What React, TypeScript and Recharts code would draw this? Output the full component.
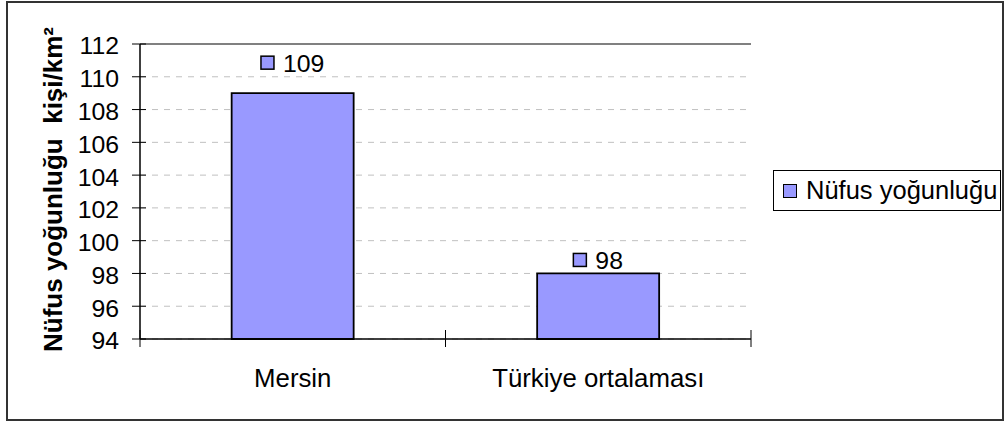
import React from 'react';
import { BarChart, Bar, XAxis, YAxis, CartesianGrid, LabelList, ReferenceLine } from 'recharts';

const categories = ['Mersin', 'Türkiye ortalaması'];
const densityValues = [109, 98];
const yTicks = [94, 96, 98, 100, 102, 104, 106, 108, 110, 112];
const seriesName = 'Nüfus yoğunluğu';
const yTitle = 'Nüfus yoğunluğu  kişi/km²';

const data = categories.map((name, i) => ({ name, value: densityValues[i] }));

const FONT = '"Liberation Sans", Arial, sans-serif';
const BAR_FILL = '#9999FF';
const LABEL_LIFT = [30, 13];

const YTick = (props: any) => {
  const { x, y, payload } = props;
  return (
    <g>
      <line x1={x + 13 + 8} x2={x + 13 + 8 + 6} y1={y} y2={y} stroke="#000" strokeWidth={1} />
      <text x={x} y={y} dy="0.42em" textAnchor="end" fontFamily={FONT} fontSize={24.8} fill="#000">
        {payload.value}
      </text>
    </g>
  );
};

const XTick = (props: any) => {
  const { x, y, payload, index } = props;
  const off = payload.offset || 0;
  const top = y - 17;
  return (
    <g>
      {index === 0 && <line x1={x - off} x2={x - off} y1={top} y2={y} stroke="#000" strokeWidth={1} />}
      <line x1={x + off} x2={x + off} y1={top} y2={y} stroke="#000" strokeWidth={1} />
      <text x={x} y={y} dy={39.5} textAnchor="middle" fontFamily={FONT} fontSize={25.8} fill="#000">
        {payload.value}
      </text>
    </g>
  );
};

const BarLabel = (props: any) => {
  const { x, y, width, value, index } = props;
  const cx = x + width / 2;
  const txt = String(value);
  const tw = txt.length * 0.556 * 24.8;
  const gw = 13 + 9 + tw;
  const left = cx - gw / 2;
  const cy = y - LABEL_LIFT[index ?? 0];
  return (
    <g>
      <rect x={left} y={cy - 7} width={13} height={13} fill={BAR_FILL} stroke="#000" strokeWidth={1.5} />
      <text x={left + 22} y={cy} dy="0.36em" textAnchor="start" fontFamily={FONT} fontSize={24.8} fill="#000">
        {txt}
      </text>
    </g>
  );
};

const YTitle = (props: any) => {
  const { viewBox } = props;
  const cx = viewBox.x + 53;
  const cy = viewBox.y + viewBox.height / 2 - 2;
  return (
    <text
      x={0}
      y={0}
      transform={`translate(${cx},${cy}) rotate(-90)`}
      textAnchor="middle"
      dominantBaseline="central"
      fontFamily={FONT}
      fontWeight="bold"
      fontSize={26}
      fill="#000"
      style={{ whiteSpace: 'pre' }}
    >
      {yTitle}
    </text>
  );
};

const LegendBox = () => (
  <div
    style={{
      position: 'absolute',
      left: 773,
      top: 170,
      border: '1.5px solid #000',
      background: '#fff',
      width: 226,
      height: 39,
      boxSizing: 'content-box',
      display: 'flex',
      alignItems: 'center',
      fontFamily: FONT,
      fontSize: 25.5,
      color: '#000',
    }}
  >
    <div style={{ display: 'flex', alignItems: 'center', marginLeft: 9 }}>
      <span
        style={{
          display: 'inline-block',
          width: 12,
          height: 12,
          background: BAR_FILL,
          border: '1.5px solid #000',
          marginRight: 9,
        }}
      />
      <span style={{ lineHeight: '39px', whiteSpace: 'nowrap' }}>{seriesName}</span>
    </div>
  </div>
);

export default function App() {
  return (
    <div style={{ position: 'absolute', left: 0, top: 0, width: 1004, height: 423, background: '#fff' }}>
      <div
        style={{
          position: 'absolute',
          left: 6,
          top: 1,
          width: 994,
          height: 416,
          border: '2px solid #333',
        }}
      />
      <div style={{ position: 'absolute', left: 0, top: 0 }}>
        <BarChart
          width={1004}
          height={423}
          data={data}
          margin={{ top: 44, right: 253, bottom: 0, left: 0 }}
          barCategoryGap="30%"
        >
          <CartesianGrid vertical={false} stroke="#c0c0c0" strokeDasharray="6 6" />
          <XAxis
            dataKey="name"
            height={84}
            tickLine={false}
            tickSize={8}
            tickMargin={0}
            axisLine={{ stroke: '#000', strokeWidth: 1.5 }}
            tick={<XTick />}
            interval={0}
          />
          <YAxis
            width={140}
            domain={[94, 112]}
            ticks={yTicks}
            interval={0}
            tickSize={8}
            tickMargin={13}
            tickLine={{ stroke: '#000', strokeWidth: 1 }}
            axisLine={{ stroke: '#000', strokeWidth: 1.5 }}
            tick={<YTick />}
            label={<YTitle />}
          />
          <YAxis
            yAxisId="right"
            orientation="right"
            width={0}
            domain={[94, 112]}
            tick={false}
            tickLine={false}
            axisLine={{ stroke: '#808080', strokeWidth: 2 }}
          />
          <ReferenceLine y={112} stroke="#808080" strokeWidth={2} />
          <Bar
            dataKey="value"
            name={seriesName}
            fill={BAR_FILL}
            stroke="#000"
            strokeWidth={1.8}
            isAnimationActive={false}
          >
            <LabelList dataKey="value" content={<BarLabel />} />
          </Bar>
        </BarChart>
      </div>
      <LegendBox />
    </div>
  );
}
